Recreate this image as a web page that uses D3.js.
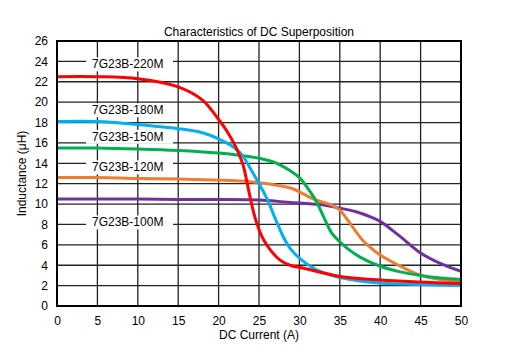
<!DOCTYPE html>
<html>
<head>
<meta charset="UTF-8">
<title>Characteristics of DC Superposition</title>
<script src="https://d3js.org/d3.v7.min.js"></script>
<style>
  body { margin: 0; background: #fff; }
  svg { font-family: "Liberation Sans", Arial, sans-serif; }
</style>
</head>
<body>
<svg></svg>
<script>
// curves: current (A) / inductance (uH)
const red220I = [0, 5, 10, 15, 18, 20, 21, 22, 23, 23.5, 24, 24.5, 25, 25.5, 26.4, 27.6, 29, 30, 35, 40, 45, 50];
const red220L = [22.5, 22.5, 22.3, 21.5, 20.2, 18.3, 17.2, 15.8, 13.9, 12.2, 10.3, 8.7, 7.5, 6.6, 5.5, 4.5, 3.95, 3.8, 2.9, 2.55, 2.35, 2.2];

const blue180I = [0, 5, 10, 15, 18, 20, 22, 23, 24, 25, 26, 27, 28, 29, 30, 32, 35, 40, 45, 50];
const blue180L = [18.1, 18.1, 17.8, 17.4, 17, 16.4, 15.5, 14.7, 13.4, 12, 10.5, 8.6, 6.8, 5.5, 4.7, 3.6, 2.8, 2.25, 2.1, 2.0];

const green150I = [0, 5, 10, 15, 20, 22.5, 25, 27.2, 29, 30, 31, 32, 33, 34, 35, 36, 37.5, 40, 42.5, 45, 47.5, 50];
const green150L = [15.5, 15.5, 15.4, 15.25, 15.0, 14.8, 14.5, 14.0, 13.2, 12.6, 11.6, 10.4, 8.75, 7.15, 6.3, 5.6, 4.8, 3.9, 3.35, 3.0, 2.75, 2.6];

const orange120I = [0, 5, 10, 15, 20, 25, 29, 30, 32, 34, 35, 36, 37, 38, 39, 40, 42.5, 45, 47.5, 50];
const orange120L = [12.6, 12.6, 12.5, 12.45, 12.35, 12.1, 11.55, 11.2, 10.4, 9.9, 9.4, 8.4, 7.3, 6.3, 5.6, 5.0, 3.9, 3.0, 2.6, 2.4];

const purple100I = [0, 5, 10, 15, 20, 25, 29, 33, 35, 37, 38.8, 40, 42.5, 45, 47.5, 50];
const purple100L = [10.5, 10.5, 10.5, 10.45, 10.45, 10.4, 10.15, 9.9, 9.6, 9.25, 8.75, 8.3, 6.8, 5.2, 4.15, 3.4];

const seriesNames = ['7G23B-220M', '7G23B-180M', '7G23B-150M', '7G23B-120M', '7G23B-100M'];
const seriesColors = ['#ff0000', '#00b0f0', '#00b050', '#ed7d31', '#7030a0'];
const labelLevels = [23.7, 19.2, 16.6, 13.6, 8.2];

const xTicks = d3.range(0, 51, 5);
const yTicks = d3.range(0, 27, 2);

const W = 507, H = 352;
const margin = { top: 41, right: 46, bottom: 46, left: 57 };
const width = W - margin.left - margin.right;
const height = H - margin.top - margin.bottom;

const svg = d3.select('svg').attr('width', W).attr('height', H);
const g = svg.append('g').attr('transform', `translate(${margin.left},${margin.top})`);

const x = d3.scaleLinear().domain([0, 50]).range([0, width]);
const y = d3.scaleLinear().domain([0, 26]).range([height, 0]);

// grid
g.append('g')
  .selectAll('line')
  .data(xTicks)
  .join('line')
  .attr('x1', d => x(d)).attr('x2', d => x(d))
  .attr('y1', 0).attr('y2', height)
  .attr('stroke', '#222').attr('stroke-width', 1.3);

g.append('g')
  .selectAll('line')
  .data(yTicks)
  .join('line')
  .attr('x1', 0).attr('x2', width)
  .attr('y1', d => y(d)).attr('y2', d => y(d))
  .attr('stroke', '#222').attr('stroke-width', 1.3);

// series labels sit on white patches over the grid
const labels = g.append('g');
seriesNames.forEach((name, i) => {
  labels.append('rect')
    .attr('x', 29).attr('y', y(labelLevels[i]) - 7)
    .attr('width', 87).attr('height', 14)
    .attr('fill', '#fff');
  labels.append('text')
    .attr('x', 35).attr('y', y(labelLevels[i]) + 4)
    .attr('font-size', '12px')
    .attr('fill', '#000')
    .text(name);
});

// curves
const series = [
  [red220I, red220L],
  [blue180I, blue180L],
  [green150I, green150L],
  [orange120I, orange120L],
  [purple100I, purple100L]
];

const line = d3.line()
  .x(d => x(d[0]))
  .y(d => y(d[1]))
  .curve(d3.curveCatmullRom.alpha(0.5));

// draw back to front: purple first, red on top
[4, 3, 2, 1, 0].forEach(i => {
  const [cur, ind] = series[i];
  g.append('path')
    .datum(cur.map((c, k) => [c, ind[k]]))
    .attr('fill', 'none')
    .attr('stroke', seriesColors[i])
    .attr('stroke-width', 3)
    .attr('stroke-linejoin', 'round')
    .attr('d', line);
});

// frame
g.append('rect')
  .attr('width', width).attr('height', height)
  .attr('fill', 'none').attr('stroke', '#000').attr('stroke-width', 2);

// axes
const xAxis = g.append('g')
  .attr('transform', `translate(0,${height})`)
  .call(d3.axisBottom(x).tickValues(xTicks).tickSize(0).tickPadding(10));
const yAxis = g.append('g')
  .call(d3.axisLeft(y).tickValues(yTicks).tickSize(0).tickPadding(9));
[xAxis, yAxis].forEach(a => {
  a.select('.domain').remove();
  a.selectAll('text').attr('font-size', '12px').attr('fill', '#000')
    .attr('font-family', '"Liberation Sans", Arial, sans-serif');
});

svg.append('text')
  .attr('x', margin.left + width / 2).attr('y', 36)
  .attr('text-anchor', 'middle').attr('font-size', '12px')
  .text('Characteristics of DC Superposition');

svg.append('text')
  .attr('x', margin.left + width / 2).attr('y', 339)
  .attr('text-anchor', 'middle').attr('font-size', '12px')
  .text('DC Current (A)');

svg.append('text')
  .attr('transform', `translate(26,${margin.top + height / 2}) rotate(-90)`)
  .attr('text-anchor', 'middle').attr('font-size', '12px')
  .text('Inductance (μH)');
</script>
</body>
</html>
